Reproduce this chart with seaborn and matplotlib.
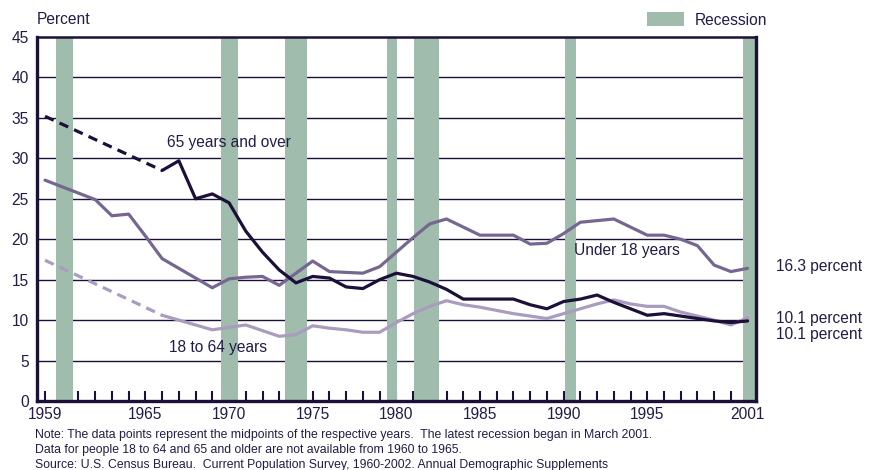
import matplotlib
matplotlib.use("Agg")
import matplotlib.pyplot as plt
from matplotlib.patches import Patch
import seaborn as sns
import pandas as pd

# years for the age groups (1959 point, then data from 1966 on)
years_grp = [1959] + list(range(1966, 2002))
years_u18 = list(range(1959, 2002))

pct_65 = [35.2, 28.5, 29.7, 25.0, 25.6, 24.5, 21.0, 18.4, 16.2, 14.6, 15.4,
          15.2, 14.1, 13.9, 15.0, 15.8, 15.4, 14.7, 13.8, 12.6, 12.6, 12.6,
          12.6, 11.9, 11.4, 12.3, 12.6, 13.1, 12.2, 11.4, 10.6, 10.8, 10.5,
          10.2, 9.9, 9.7, 9.9]
pct_18_64 = [17.4, 10.6, 10.0, 9.4, 8.8, 9.1, 9.4, 8.7, 8.0, 8.2, 9.3,
             9.0, 8.8, 8.5, 8.5, 9.7, 10.8, 11.7, 12.4, 11.9, 11.6, 11.2,
             10.8, 10.5, 10.2, 10.8, 11.4, 12.0, 12.5, 12.0, 11.7, 11.7, 11.0,
             10.5, 10.0, 9.4, 10.3]
pct_u18 = [27.3, 26.5, 25.7, 24.9, 22.9, 23.1, 20.4, 17.6, 16.4, 15.2, 14.0,
           15.1, 15.3, 15.4, 14.3, 15.8, 17.3, 16.0, 15.9, 15.8, 16.6, 18.4,
           20.2, 21.9, 22.5, 21.5, 20.5, 20.5, 20.5, 19.4, 19.5, 20.7, 22.1,
           22.3, 22.5, 21.5, 20.5, 20.5, 20.0, 19.2, 16.8, 16.0, 16.4]

# recession spans (x positions on the mid-year scale)
rec_start = [1959.66, 1969.51, 1973.34, 1979.43, 1981.04, 1990.06, 2000.70]
rec_end = [1960.67, 1970.53, 1974.65, 1980.03, 1982.54, 1990.72, 2001.5]

xlabels = [1959, 1965, 1970, 1975, 1980, 1985, 1990, 1995, 2001]

navy = "#1c1038"
txt = "#221c46"
c65 = "#1c1038"
cu18 = "#766790"
c1864 = "#aa9cbe"
crec = "#9fbcad"
fs = 11.2

sns.set_style("white")
plt.rcParams["font.family"] = ["Liberation Sans", "DejaVu Sans"]

fig = plt.figure(figsize=(8.77, 4.70), dpi=100)
ax = fig.add_axes([37 / 877, 1 - 401 / 470, (756 - 37) / 877, (401 - 37) / 470])

for yv in range(5, 45, 5):
    ax.axhline(yv, color=navy, lw=1.0, zorder=1)

for s, e in zip(rec_start, rec_end):
    ax.axvspan(s, e, color=crec, lw=0, zorder=2)

df65 = pd.DataFrame({"year": years_grp, "pct": pct_65})
df1864 = pd.DataFrame({"year": years_grp, "pct": pct_18_64})
dfu18 = pd.DataFrame({"year": years_u18, "pct": pct_u18})

lw = 2.3
sns.lineplot(data=dfu18, x="year", y="pct", color=cu18, lw=lw, ax=ax, zorder=3)
sns.lineplot(data=df1864.iloc[1:], x="year", y="pct", color=c1864, lw=lw, ax=ax, zorder=4)
sns.lineplot(data=df1864.iloc[:2], x="year", y="pct", color=c1864, lw=lw, ax=ax,
             zorder=4, linestyle=(0, (3, 2)))
sns.lineplot(data=df65.iloc[1:], x="year", y="pct", color=c65, lw=lw, ax=ax, zorder=5)
sns.lineplot(data=df65.iloc[:2], x="year", y="pct", color=c65, lw=lw, ax=ax,
             zorder=5, linestyle=(0, (3, 2)))

ax.set_xlim(1958.52, 2001.5)
ax.set_ylim(0, 45)
ax.set_xlabel("")
ax.set_ylabel("")

ax.set_xticks(list(range(1959, 2002)), minor=True)
ax.set_xticks(xlabels)
ax.set_xticklabels([str(v) for v in xlabels])
ax.tick_params(axis="x", which="both", direction="in", length=7.5, width=1.5,
               color=navy, bottom=True, labelsize=fs, labelcolor=txt, pad=4)
ax.set_yticks(range(0, 50, 5))
ax.tick_params(axis="y", length=0, labelsize=fs, labelcolor=txt, pad=6)

for side in ["left", "bottom", "right"]:
    ax.spines[side].set_color(navy)
    ax.spines[side].set_linewidth(2.4)
ax.spines["top"].set_color(navy)
ax.spines["top"].set_linewidth(1.8)

# labels inside the plot
ax.text(1966.3, 32.0, "65 years and over", color=txt, fontsize=fs, va="center")
ax.text(1966.4, 6.6, "18 to 64 years", color=txt, fontsize=fs, va="center")
ax.text(1990.6, 18.6, "Under 18 years", color=txt, fontsize=fs, va="center")

fig.text(37 / 877, 1 - 20 / 470, "Percent", color=txt, fontsize=fs, va="center")
fig.text(776 / 877, 1 - 266 / 470, "16.3 percent", color=txt, fontsize=fs, va="center")
fig.text(776 / 877, 1 - 318 / 470, "10.1 percent", color=txt, fontsize=fs, va="center")
fig.text(776 / 877, 1 - 334 / 470, "10.1 percent", color=txt, fontsize=fs, va="center")

notes = ["Note: The data points represent the midpoints of the respective years.  The latest recession began in March 2001.",
         "Data for people 18 to 64 and 65 and older are not available from 1960 to 1965.",
         "Source: U.S. Census Bureau.  Current Population Survey, 1960-2002. Annual Demographic Supplements"]
for i, line in enumerate(notes):
    fig.text(35 / 877, 1 - (435 + 15 * i) / 470, line, color=txt, fontsize=8.8, va="center")

leg = ax.legend(handles=[Patch(facecolor=crec, edgecolor="none", label="Recession")],
                loc="center left", bbox_to_anchor=(633 / 877, 1 - 20 / 470),
                bbox_transform=fig.transFigure, frameon=False, fontsize=fs,
                handlelength=2.4, handleheight=0.95, handletextpad=0.7)
for t in leg.get_texts():
    t.set_color(txt)

fig.savefig("out.png", dpi=100)
